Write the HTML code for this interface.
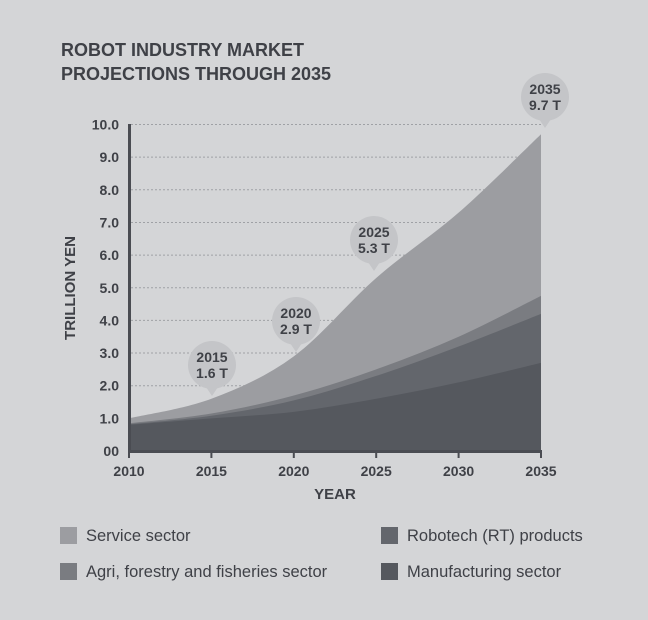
<!DOCTYPE html>
<html><head><meta charset="utf-8"><style>
body{margin:0;background:#d4d5d7;}
svg{display:block;font-family:"Liberation Sans",sans-serif;}
</style></head><body>
<svg id="s" width="648" height="620" viewBox="0 0 648 620">
<rect width="648" height="620" fill="#d4d5d7"/>
<text x="61" y="56" font-size="18" font-weight="bold" fill="#3f4147">ROBOT INDUSTRY MARKET</text>
<text x="61" y="80" font-size="18" font-weight="bold" fill="#3f4147">PROJECTIONS THROUGH 2035</text>
<g id="grid" stroke="#9fa1a5" stroke-dasharray="2,2" stroke-width="1"></g>
<g id="areas"></g>
<g id="axis"></g>
<text transform="translate(75,288) rotate(-90)" text-anchor="middle" font-size="15" font-weight="bold" fill="#3f4147">TRILLION YEN</text>
<text x="335" y="499" text-anchor="middle" font-size="15" font-weight="bold" fill="#3f4147">YEAR</text>
<g font-size="16.5" fill="#3f4147">
<rect x="60" y="527" width="17" height="17" fill="#9c9da1"/><text x="86" y="541">Service sector</text>
<rect x="60" y="563" width="17" height="17" fill="#7a7c81"/><text x="86" y="577">Agri, forestry and fisheries sector</text>
<rect x="381" y="527" width="17" height="17" fill="#63666c"/><text x="407" y="541">Robotech (RT) products</text>
<rect x="381" y="563" width="17" height="17" fill="#55585e"/><text x="407" y="577">Manufacturing sector</text>
</g>
</svg>
<script>
var X=function(y){return 129+(y-2010)/25*412;},Y=function(v){return 451-v*32.65;};
var s='http://www.w3.org/2000/svg',yrs=[2010,2015,2020,2025,2030,2035];
function el(p,t,a,txt){var e=document.createElementNS(s,t);for(var k in a)e.setAttribute(k,a[k]);if(txt)e.textContent=txt;p.appendChild(e);return e;}
var g=document.getElementById('grid');
for(var i=1;i<=10;i++)el(g,'line',{x1:131,x2:541,y1:Y(i),y2:Y(i)});
function path(v){var p=yrs.map(function(y,i){return[X(y),Y(v[i])]});var d='M'+X(2010)+','+Y(0)+' L'+p[0][0]+','+p[0][1];
for(var i=0;i<p.length-1;i++){var p0=p[Math.max(i-1,0)],p1=p[i],p2=p[i+1],p3=p[Math.min(i+2,p.length-1)];
d+=' C'+(p1[0]+(p2[0]-p0[0])/6)+','+(p1[1]+(p2[1]-p0[1])/6)+' '+(p2[0]-(p3[0]-p1[0])/6)+','+(p2[1]-(p3[1]-p1[1])/6)+' '+p2[0]+','+p2[1];}
return d+' L'+X(2035)+','+Y(0)+'Z';}
var a=document.getElementById('areas');
[[[1.0,1.6,2.9,5.3,7.3,9.7],'#9c9da1'],[[0.85,1.15,1.7,2.5,3.5,4.75],'#7a7c81'],[[0.82,1.08,1.55,2.3,3.2,4.2],'#63666c'],[[0.8,1.0,1.2,1.6,2.1,2.7],'#55585e']].forEach(function(l){el(a,'path',{d:path(l[0]),fill:l[1]});});
var ax=document.getElementById('axis');
el(ax,'rect',{x:128,y:124,width:3,height:328,fill:'#4a4c52'});
el(ax,'rect',{x:128,y:450,width:414,height:3,fill:'#4a4c52'});
yrs.forEach(function(y){el(ax,'rect',{x:X(y)-1,y:450,width:2,height:8,fill:'#4a4c52'});
el(ax,'text',{x:X(y),y:476,'text-anchor':'middle','font-size':'14','font-weight':'bold',fill:'#3f4147'},''+y);});
for(var i=0;i<=10;i++)el(ax,'text',{x:119,y:Y(i)+5,'text-anchor':'end','font-size':'14','font-weight':'bold',fill:'#3f4147'},i==0?'00':i.toFixed(1));
[[212,365,'2015','1.6 T'],[296,321,'2020','2.9 T'],[374,240,'2025','5.3 T'],[545,97,'2035','9.7 T']].forEach(function(b){
el(ax,'circle',{cx:b[0],cy:b[1],r:24,fill:'#c4c5c8'});
el(ax,'path',{d:'M'+(b[0]-6)+','+(b[1]+22)+' L'+b[0]+','+(b[1]+31)+' L'+(b[0]+6)+','+(b[1]+22)+'Z',fill:'#c4c5c8'});
el(ax,'text',{x:b[0],y:b[1]-3,'text-anchor':'middle','font-size':'14','font-weight':'bold',fill:'#3f4147'},b[2]);
el(ax,'text',{x:b[0],y:b[1]+13,'text-anchor':'middle','font-size':'14','font-weight':'bold',fill:'#3f4147'},b[3]);});
</script>
</body></html>
